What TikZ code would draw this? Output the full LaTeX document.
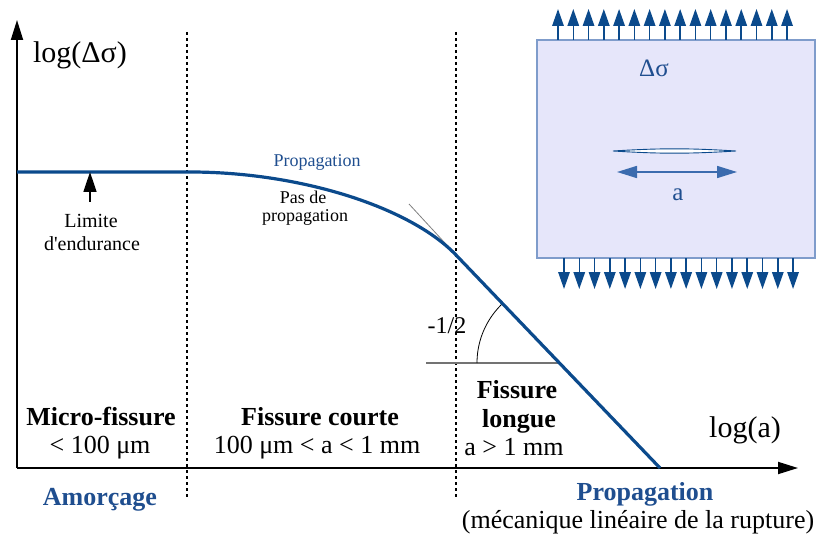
\documentclass[tikz,border=0pt]{standalone}
\usepackage{fontspec}
\setmainfont{Liberation Serif}
\usetikzlibrary{arrows.meta}
\definecolor{curveblue}{HTML}{0B4A8C}
\definecolor{textblue}{HTML}{1F4E8F}
\definecolor{platefill}{HTML}{E6E6FA}
\definecolor{plateedge}{HTML}{7F9CCB}
\definecolor{dimblue}{HTML}{3B6BAE}
\newcommand{\fs}[1]{\fontsize{#1}{#1}\selectfont}
\begin{document}
\begin{tikzpicture}[x=1pt,y=-1pt,
  axis/.style={line width=1.8pt,-{Triangle[length=20pt,width=12pt]}},
  sep/.style={line width=1.4pt,dash pattern=on 3pt off 3pt},
  txt/.style={inner sep=0pt,anchor=base},
  big/.style={txt,font=\fs{26}},
  bigb/.style={txt,font=\fs{26}\bfseries},
  small/.style={txt,font=\fs{18}},
  forcearrow/.style={curveblue,line width=1.5pt,-{Triangle[length=17pt,width=11.5pt]}},
  ]
\useasboundingbox (0,0) rectangle (819,540);
% axes
\coordinate (O) at (17,468);
\coordinate (ytop) at (17,20);
\coordinate (xend) at (798,468);
\draw[axis] (O) -- (ytop);
\draw[axis] (O) -- (xend);
% separators
\coordinate (s1t) at (187,32); \coordinate (s1b) at (187,497);
\coordinate (s2t) at (456,32); \coordinate (s2b) at (456,497);
\draw[sep] (s1t) -- (s1b);
\draw[sep] (s2t) -- (s2b);
% tangent helper and slope
\coordinate (tanA) at (409,204);
\coordinate (tanB) at (456,255);
\draw[gray,line width=0.8pt] (tanA) -- (tanB);
\coordinate (hA) at (426,363);
\coordinate (hB) at (558,363);
\draw[gray!90!black,line width=1.5pt] (hA) -- (hB);
\draw[black,line width=0.8pt] plot[domain=180:226.4,samples=40] ({559+82*cos(\x)},{363+82*sin(\x)});
% main curve
\coordinate (c0) at (17,172);
\coordinate (c1) at (190,172);
\coordinate (c2) at (456,255);
\coordinate (c3) at (660,468);
\draw[curveblue,line width=3.2pt,line join=round] (c0) -- (c1) .. controls (300,172) and (410,207) .. (c2) -- (c3);
% endurance arrow
\coordinate (eA) at (90,202);
\coordinate (eB) at (90,172);
\draw[line width=1.6pt,-{Triangle[length=20pt,width=13pt]}] (eA) -- (eB);
% labels
\node[txt,font=\fs{30}] (ylab) at (80,63) {log(Δσ)};
\node[txt,font=\fs{30}] (xlab) at (745,437) {log(a)};
\node[txt,font=\fs{20}] (lim1) at (91,228) {Limite};
\node[txt,font=\fs{20}] (lim2) at (92,250) {d\textquotesingle endurance};
\node[small,text=textblue] (prop1) at (317,167) {Propagation};
\node[small] (pas1) at (303,204) {Pas de};
\node[small] (pas2) at (305,222) {propagation};
\node[txt,font=\fs{24}] (slope) at (447,333) {-1/2};
\node[bigb] (mf1) at (101,425) {Micro-fissure};
\node[big] (mf2) at (100,453) {< 100 μm};
\node[bigb] (fc1) at (320,425) {Fissure courte};
\node[big] (fc2) at (317,453) {100 μm < a < 1 mm};
\node[bigb] (fl1) at (517,398) {Fissure};
\node[bigb] (fl2) at (519,427) {longue};
\node[big] (fl3) at (514,455) {a > 1 mm};
\node[bigb,text=textblue] (amo) at (100,505) {Amorçage};
\node[bigb,text=textblue] (prop2) at (645,500) {Propagation};
\node[big] (meca) at (638,528) {(mécanique linéaire de la rupture)};
% plate
\node[draw=plateedge,fill=platefill,line width=1.3pt,minimum width=278pt,minimum height=218pt,inner sep=0pt] (plate) at (676,149) {};
\foreach \i in {0,...,15}{
  \coordinate (ta\i) at ({558+\i*15.27},40);
  \coordinate (tb\i) at ({558+\i*15.27},9);
  \draw[forcearrow] (ta\i) -- (tb\i);
  \coordinate (ba\i) at ({564+\i*15.27},258);
  \coordinate (bb\i) at ({564+\i*15.27},289);
  \draw[forcearrow] (ba\i) -- (bb\i);
}
\node[txt,font=\fs{25},text=textblue] (ds) at (654,77) {Δσ};
\coordinate (crA) at (613,151);
\coordinate (crB) at (736,151);
\draw[curveblue,line width=0.9pt,fill=white] (crA) to[bend left=3.5] (crB) to[bend left=3.5] (crA);
\coordinate (dA) at (617,172);
\coordinate (dB) at (737,172);
\draw[dimblue,line width=1.6pt,{Triangle[length=20pt,width=12pt]}-{Triangle[length=20pt,width=12pt]}] (dA) -- (dB);
\node[txt,font=\fs{25},text=textblue] (alab) at (678,201) {a};
\end{tikzpicture}
\end{document}
